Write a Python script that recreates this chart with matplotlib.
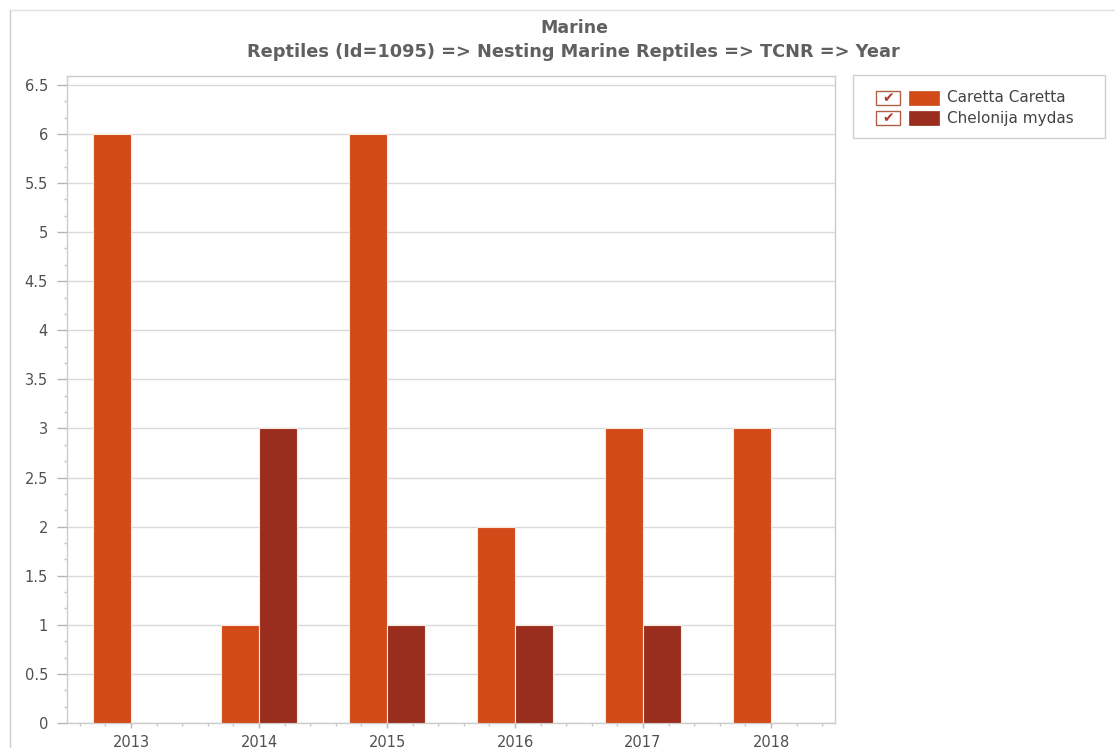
import numpy as np
import matplotlib
matplotlib.use("Agg")
import matplotlib.pyplot as plt
from matplotlib.ticker import MultipleLocator
from matplotlib.patches import Rectangle
from matplotlib.lines import Line2D

plt.rcParams["font.family"] = ["DejaVu Sans"]

years = ["2013", "2014", "2015", "2016", "2017", "2018"]
series_names = ["Caretta Caretta", "Chelonija mydas"]
caretta = [6, 1, 6, 2, 3, 3]
chelonija = [0, 3, 1, 1, 1, 0]
colors = ["#D24A17", "#9B2D1F"]

title = "Marine"
subtitle = "Reptiles (Id=1095) => Nesting Marine Reptiles => TCNR => Year"

fig = plt.figure(figsize=(11.15, 7.48), dpi=100)
ax = fig.add_axes([67/1115, 1 - 723/748, (835-67)/1115, (723-76)/748])

x = np.arange(len(years))
w = 0.3
for i, (vals, col) in enumerate(zip([caretta, chelonija], colors)):
    vals = np.array(vals, dtype=float)
    vals[vals == 0] = np.nan  # no bar drawn for empty years
    offs = -w/2 if i == 0 else w/2
    ax.bar(x + offs, vals, width=w, color=col, edgecolor="#fbe9dc",
           linewidth=0.8, zorder=3)

ax.set_xlim(-0.5, 5.5)
ax.set_ylim(0, 6.59)
ax.set_xticks(x)
ax.set_xticklabels(years)
ax.xaxis.set_minor_locator(MultipleLocator(0.2))
ax.yaxis.set_major_locator(MultipleLocator(0.5))
ax.yaxis.set_minor_locator(MultipleLocator(1/6))
ax.set_yticklabels([("%g" % v) for v in ax.get_yticks()])

ax.grid(axis="y", which="major", color="#d9d9d9", linewidth=1, zorder=0)
for s in ax.spines.values():
    s.set_color("#cccccc")
    s.set_linewidth(1)
ax.tick_params(axis="both", which="major", colors="#b5b5b5", labelcolor="#505050",
               labelsize=10.5, length=3.6, width=1)
ax.tick_params(axis="x", which="major", pad=5)
ax.tick_params(axis="y", which="major", length=7.2, pad=6.5)
ax.tick_params(axis="both", which="minor", colors="#c5c5c5", length=2.5, width=1)

# titles
fig.text(574/1115, 1 - 28/748, title, ha="center", va="center",
         fontsize=12.5, color="#606060", fontweight="bold")
fig.text(573/1115, 1 - 52/748, subtitle, ha="center", va="center",
         fontsize=12.8, color="#606060", fontweight="bold")

# outer border lines of chart control
fig.add_artist(Line2D([10/1115, 10/1115], [0, 1 - 10/748], color="#cccccc", lw=1))
fig.add_artist(Line2D([10/1115, 1], [1 - 10/748, 1 - 10/748], color="#e0e0e0", lw=1))

# legend drawn by hand with checkboxes
def fx(px):
    return px / 1115
def fy(py):
    return 1 - py / 748

fig.add_artist(Rectangle((fx(853), fy(138)), fx(1105) - fx(853), fy(75) - fy(138),
                         transform=fig.transFigure, facecolor="white",
                         edgecolor="#cfcfcf", lw=1))
for k, (name, col) in enumerate(zip(series_names, colors)):
    cy = 98 + 20 * k
    fig.add_artist(Rectangle((fx(876), fy(cy + 7)), fx(24), 14/748,
                             transform=fig.transFigure, facecolor="white",
                             edgecolor="#b0604a", lw=1))
    fig.text(fx(888), fy(cy), "\u2714", ha="center", va="center",
             fontsize=10, color="#b23a26")
    fig.add_artist(Rectangle((fx(909), fy(cy + 7)), fx(30), 14/748,
                             transform=fig.transFigure, facecolor=col,
                             edgecolor=col, lw=0.5))
    fig.text(fx(947), fy(cy), name, ha="left", va="center",
             fontsize=11, color="#444444")

fig.savefig("out.png", dpi=100)
